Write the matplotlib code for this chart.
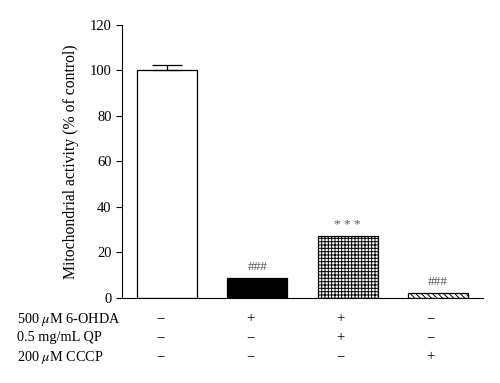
import numpy as np
import matplotlib
matplotlib.use("Agg")
import matplotlib.pyplot as plt
import matplotlib.transforms as mtransforms

plt.rcParams['font.family'] = ['Liberation Serif', 'DejaVu Serif']
plt.rcParams['mathtext.fontset'] = 'stix'
plt.rcParams['hatch.linewidth'] = 0.7

# data
groups = ["Control", "6-OHDA", "6-OHDA + QP", "CCCP"]
activity = [100.0, 8.8, 27.4, 2.4]
activity_err = [2.4, 0.0, 0.0, 0.0]
marks = ["", "###", "* * *", "###"]
row_labels = ["500 $\\mu$M 6-OHDA", "0.5 mg/mL QP", "200 $\\mu$M CCCP"]
treatments = [
    ["\u2212", "+", "+", "\u2212"],
    ["\u2212", "\u2212", "+", "\u2212"],
    ["\u2212", "\u2212", "\u2212", "+"],
]

fig = plt.figure(figsize=(5.0, 3.83), dpi=100)
ax = fig.add_axes([0.244, 0.222, 0.722, 0.713])

x = np.arange(len(groups))
faces = ["white", "black", "white", "white"]
hatches = [None, None, "+++++", "\\\\\\\\\\\\"]
for xi, v, fc, h in zip(x, activity, faces, hatches):
    ax.bar(xi, v, width=0.667, color=fc, edgecolor="black", hatch=h, linewidth=0.9, zorder=2)

# upper error bar on control only
ax.errorbar(x[0], activity[0], yerr=[[0], [activity_err[0]]], fmt="none",
            ecolor="black", elinewidth=0.9, capsize=11, capthick=0.9, zorder=3)

for xi, v, e, m in zip(x, activity, activity_err, marks):
    if m:
        ax.text(xi, v + e + 2.0, m, ha="center", va="bottom", fontsize=9.5, color="#555555")

ax.set_xlim(-0.5, 3.5)
ax.set_ylim(0, 120)
ax.set_yticks(np.arange(0, 121, 20))
ax.set_xticks([])
ax.tick_params(axis="y", direction="out", length=4, width=0.8, labelsize=10.5)
for s in ["top", "right"]:
    ax.spines[s].set_visible(False)
ax.spines["left"].set_linewidth(0.8)
ax.spines["bottom"].set_linewidth(0.8)
ax.set_ylabel("Mitochondrial activity (% of control)", fontsize=11.3, labelpad=8)

# treatment table under the bars
trans = mtransforms.blended_transform_factory(ax.transData, fig.transFigure)
row_y = [1 - 319 / 383, 1 - 338 / 383, 1 - 357 / 383]
for lab, ry, row in zip(row_labels, row_y, treatments):
    fig.text(17 / 500, ry, lab, ha="left", va="center", fontsize=10.3)
    for xi, sym in zip(x, row):
        ax.text(xi - 0.08, ry, sym, transform=trans, ha="center", va="center", fontsize=10.5)

fig.savefig("out.png", dpi=100)
